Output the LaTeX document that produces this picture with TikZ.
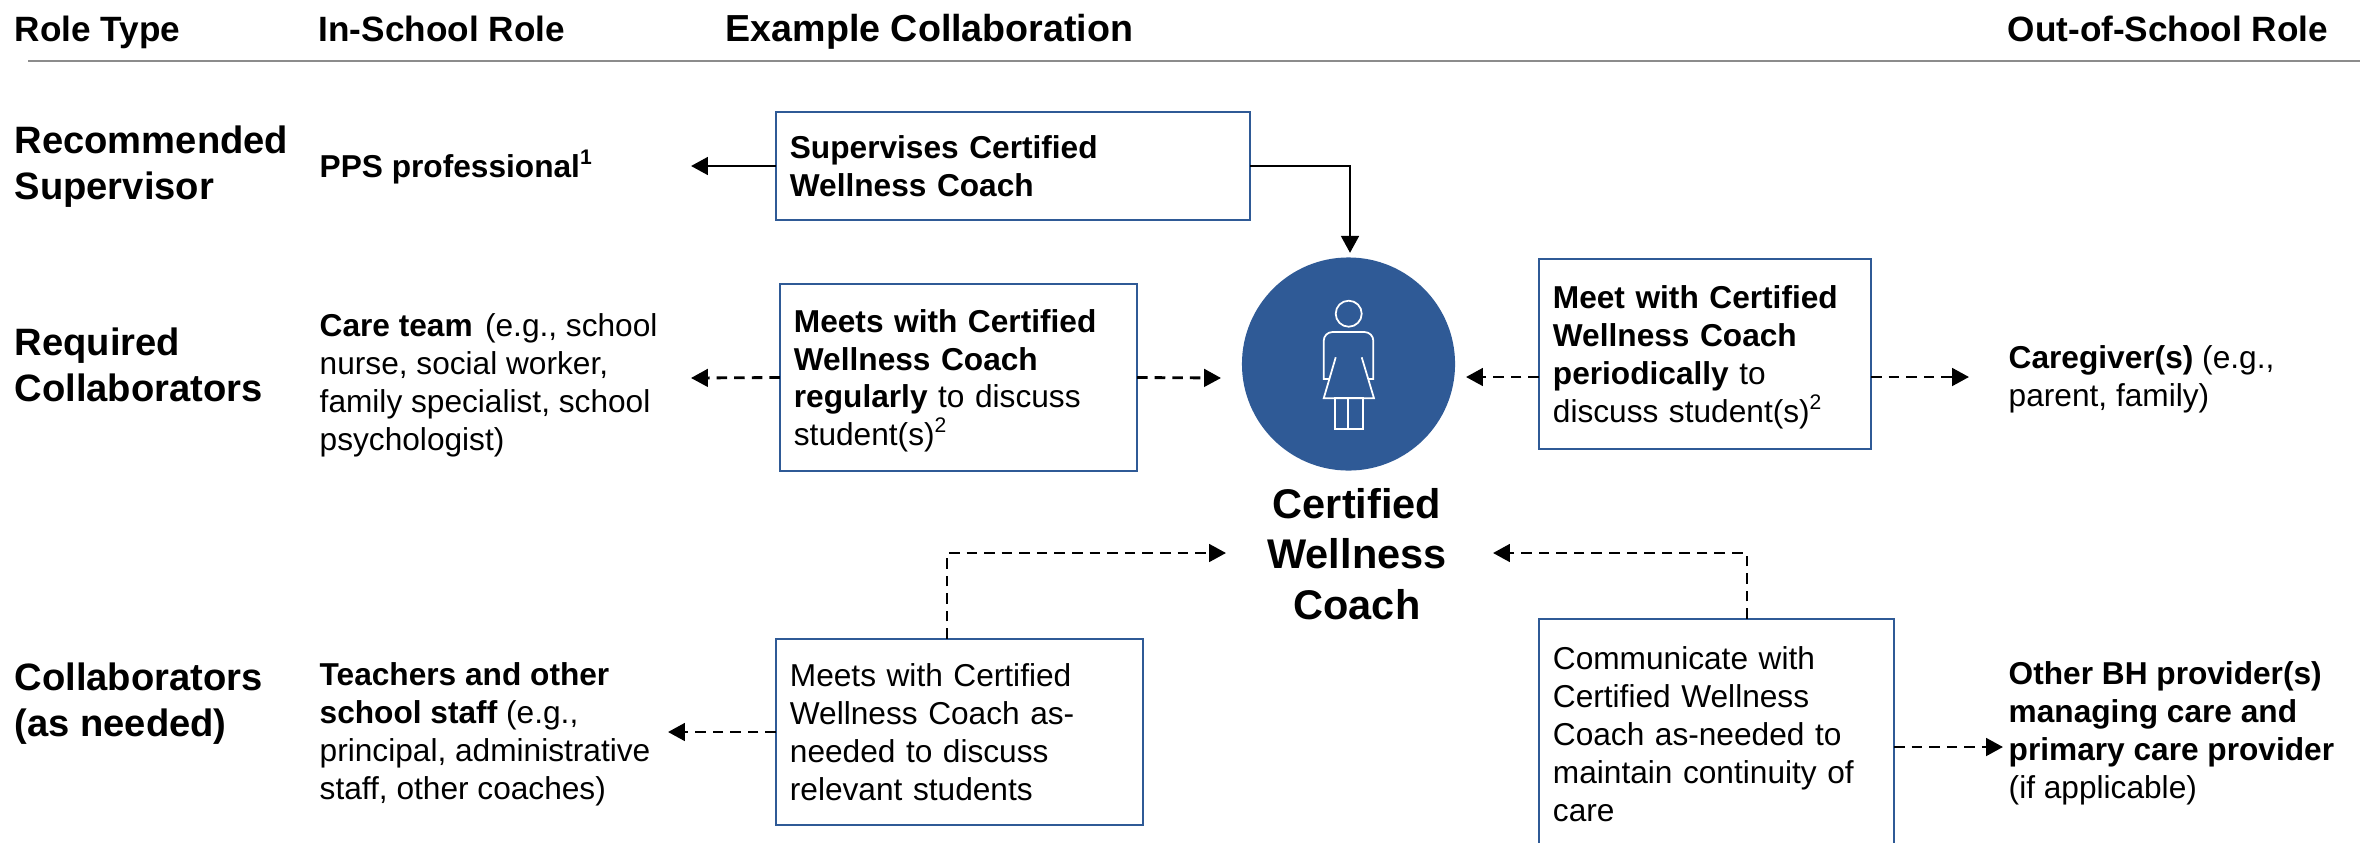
\documentclass[tikz,border=0pt]{standalone}
\usepackage{fontspec}
\setmainfont{Liberation Sans}
\usepackage{tikz}
\usetikzlibrary{arrows.meta}
\definecolor{coachblue}{HTML}{2F5A96}
\definecolor{rulegray}{HTML}{8C8C8C}
\newcommand{\dropline}{\rule{0pt}{8.4pt}}
\tikzset{
    bodytext/.style={inner sep=0pt, anchor=north west, align=left,
        font=\fontsize{9pt}{10.8pt}\selectfont},
    headtext/.style={inner sep=0pt, anchor=base west,
        font=\fontsize{10pt}{12pt}\selectfont\bfseries},
    roletext/.style={inner sep=0pt, anchor=north west, align=left,
        font=\fontsize{10.85pt}{13pt}\selectfont\bfseries},
    roleBox/.style={draw=coachblue, line width=0.7pt, outer sep=0pt,
        inner xsep=0.14cm, inner ysep=0pt, align=left,
        font=\fontsize{9pt}{10.8pt}\selectfont},
    solidArrow/.style={line width=0.8pt, -{Triangle[length=4.8pt,width=5pt]}},
    dashArrow/.style={line width=0.8pt, dash pattern=on 3pt off 2pt,
        -{Triangle[length=4.8pt,width=5pt]}},
    personLine/.style={draw=white, line width=0.5pt},
}
\begin{document}
\begin{tikzpicture}[x=0.01cm, y=-0.01cm]
    \useasboundingbox (0,0) rectangle (2376,842);

    % header row
    \node[headtext] (hType) at (14,41) {Role Type};
    \node[headtext] (hIn) at (318,41) {In-School Role};
    \node[headtext, font=\fontsize{10.7pt}{12pt}\selectfont\bfseries]
        (hEx) at (725,41) {Example Collaboration};
    \node[headtext] (hOut) at (2007,41) {Out-of-School Role};
    \coordinate (ruleL) at (28,61);
    \coordinate (ruleR) at (2360,61);
    \draw[rulegray, line width=0.7pt] (ruleL) -- (ruleR);

    % role types
    \node[roletext] (tSup) at (14,125) {Recommended\\Supervisor};
    \node[roletext] (tReq) at (14,327) {Required\\Collaborators};
    \node[roletext] (tCol) at (14,662) {Collaborators\\(as needed)};

    % in-school column
    \node[bodytext] (inSup) at (319,149) {\textbf{PPS professional\textsuperscript{1}}};
    \node[bodytext] (inReq) at (319,313) {\textbf{Care team}\hspace{1pt} (e.g., school\\nurse, social worker,\\family specialist, school\\psychologist)};
    \node[bodytext] (inCol) at (319,662) {\textbf{Teachers and other}\\\textbf{school staff} (e.g.,\\principal, administrative\\staff, other coaches)};

    % out-of-school column
    \node[bodytext] (outReq) at (2008,345) {\textbf{Caregiver(s)} (e.g.,\\parent, family)};
    \node[bodytext] (outCol) at (2008,661) {\textbf{Other BH provider(s)}\\\textbf{managing care and}\\\textbf{primary care provider}\\(if applicable)};

    % collaboration boxes
    \node[roleBox, text width=4.46cm, minimum height=1.08cm] (supBox) at (1013,166)
        {\textbf{Supervises Certified}\\\textbf{Wellness Coach}};
    \node[roleBox, text width=3.29cm, minimum height=1.87cm] (regBox) at (958.5,377.5)
        {\dropline\textbf{Meets with Certified}\\\textbf{Wellness Coach}\\\textbf{regularly} to discuss\\student(s)\textsuperscript{2}};
    \node[roleBox, text width=3.04cm, minimum height=1.90cm] (perBox) at (1705,354)
        {\dropline\textbf{Meet with Certified}\\\textbf{Wellness Coach}\\\textbf{periodically} to\\discuss student(s)\textsuperscript{2}};
    \node[roleBox, text width=3.39cm, minimum height=1.86cm] (needBox) at (959.5,732)
        {Meets with Certified\\Wellness Coach as-\\needed to discuss\\relevant students};
    \node[roleBox, text width=3.27cm, minimum height=2.30cm] (contBox) at (1716.5,734)
        {Communicate with\\Certified Wellness\\Coach as-needed to\\maintain continuity of\\care};

    % coach
    \node[circle, fill=coachblue, minimum size=2.13cm, inner sep=0pt] (coach) at (1348.5,364) {};
    \node[inner sep=0pt, align=center, font=\fontsize{11.8pt}{14.4pt}\selectfont\bfseries]
        (coachText) at (1357,554) {Certified\\Wellness\\Coach};

    % person icon
    \node[circle, personLine, minimum size=0.26cm, inner sep=0pt] (head) at (1348.7,313.7) {};
    \draw[personLine] (1329,379) -- (1323.7,379)
        [rounded corners=2.5pt] -- (1323.7,332) -- (1373.3,332) [sharp corners] -- (1373.3,379) -- (1368,379);
    \draw[personLine, line join=miter] (1335.7,357.3) -- (1323.7,398.3) -- (1374,398.3) -- (1361.7,357.3);
    \draw[personLine] (1335,398.3) rectangle (1363,429.3);
    \draw[personLine] (1348.3,398.3) -- (1348.3,429.3);

    % free ends of the connectors
    \coordinate (supTip) at (691,166);
    \coordinate (regTip) at (691,378);
    \coordinate (regCoach) at (1221,378);
    \coordinate (perCoach) at (1466,377);
    \coordinate (perTip) at (1969,377);
    \coordinate (needTip) at (668,732);
    \coordinate (needCorner) at (947,553);
    \coordinate (needCoach) at (1226,553);
    \coordinate (contCorner) at (1747,553);
    \coordinate (contCoach) at (1493,553);
    \coordinate (contTip) at (2003,747);

    % connectors
    \draw[solidArrow] (supBox.west) -- (supTip);
    \draw[solidArrow, shorten >=1.1pt] (supBox.east) -| ([xshift=0.015cm]coach.north);
    \draw[dashArrow] (regBox.west) -- (regTip);
    \draw[dashArrow] (regBox.east) -- (regCoach);
    \draw[dashArrow] (perBox.west |- perCoach) -- (perCoach);
    \draw[dashArrow] (perBox.east |- perTip) -- (perTip);
    \draw[dashArrow] (needBox.west) -- (needTip);
    \draw[dashArrow] (needCorner |- needBox.north) -- (needCorner) -- (needCoach);
    \draw[dashArrow] (contCorner |- contBox.north) -- (contCorner) -- (contCoach);
    \draw[dashArrow] (contBox.east |- contTip) -- (contTip);
\end{tikzpicture}
\end{document}
